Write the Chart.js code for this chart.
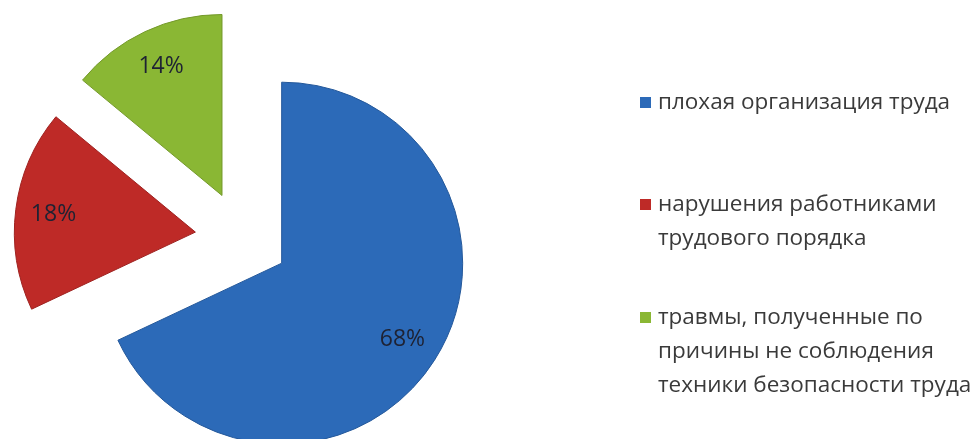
<!DOCTYPE html>
<html>
<head>
<meta charset="utf-8">
<script src="https://cdn.jsdelivr.net/npm/chart.js@4.4.1/dist/chart.umd.min.js"></script>
<style>
    html, body { margin: 0; padding: 0; background: #ffffff; }
    #wrap { position: relative; width: 979px; height: 439px; }
</style>
</head>
<body>
<div id="wrap"><canvas id="pie"></canvas></div>
<script>
    // data
    var categories = [
        ['плохая организация труда'],
        ['нарушения работниками', 'трудового порядка'],
        ['травмы, полученные по', 'причины не соблюдения', 'техники безопасности труда']
    ];
    var shares = [68, 18, 14];
    var sliceColors = ['#2c6ab8', '#be2a27', '#8ab734'];
    var sliceBorders = ['#24589a', '#9e2220', '#74992b'];

    // every slice is pulled out from the centre by this many pixels
    var explode = 47;

    // chart.js' own "offset" also grows the radius, so shift each arc by hand instead
    var explodeSlices = {
        id: 'explodeSlices',
        beforeDatasetsDraw: function (chart) {
            chart.getDatasetMeta(0).data.forEach(function (arc) {
                if (arc._exploded) return;
                var draw = arc.draw;
                arc.draw = function (ctx) {
                    var mid = (this.startAngle + this.endAngle) / 2;
                    ctx.save();
                    ctx.translate(Math.cos(mid) * explode, Math.sin(mid) * explode);
                    draw.call(this, ctx);
                    ctx.restore();
                };
                arc._exploded = true;
            });
        }
    };

    // percent labels inside the slices
    var percentLabels = {
        id: 'percentLabels',
        afterDatasetsDraw: function (chart) {
            var ctx = chart.ctx;
            var meta = chart.getDatasetMeta(0);
            ctx.save();
            ctx.font = '23px "Open Sans", sans-serif';
            ctx.fillStyle = '#1e2233';
            ctx.textAlign = 'center';
            ctx.textBaseline = 'middle';
            meta.data.forEach(function (arc, i) {
                var mid = (arc.startAngle + arc.endAngle) / 2;
                var r = explode + arc.outerRadius * 0.79;
                ctx.fillText(shares[i] + '%', arc.x + Math.cos(mid) * r, arc.y + Math.sin(mid) * r);
            });
            ctx.restore();
        }
    };

    // legend on the right, multi-line items
    var sideLegend = {
        id: 'sideLegend',
        afterDraw: function (chart) {
            var ctx = chart.ctx;
            var tops = [103, 205, 318];
            var lineH = 34;
            ctx.save();
            ctx.font = '22.5px "Open Sans", sans-serif';
            ctx.textBaseline = 'middle';
            categories.forEach(function (lines, i) {
                ctx.fillStyle = sliceColors[i];
                ctx.fillRect(640, tops[i] - 6, 11, 11);
                ctx.fillStyle = '#3a3a3a';
                lines.forEach(function (txt, j) {
                    ctx.fillText(txt, 658, tops[i] + j * lineH);
                });
            });
            ctx.restore();
        }
    };

    new Chart(document.getElementById('pie').getContext('2d'), {
        type: 'pie',
        data: {
            labels: categories.map(function (l) { return l.join(' '); }),
            datasets: [{
                data: shares,
                backgroundColor: sliceColors,
                borderColor: sliceBorders,
                borderWidth: 1,
                clip: false
            }]
        },
        options: {
            responsive: true,
            maintainAspectRatio: false,
            animation: false,
            radius: 181,
            layout: { padding: { left: 0, right: 495, top: 37, bottom: 0 } },
            plugins: {
                legend: { display: false },
                tooltip: { enabled: false }
            }
        },
        plugins: [explodeSlices, percentLabels, sideLegend]
    });
</script>
</body>
</html>
